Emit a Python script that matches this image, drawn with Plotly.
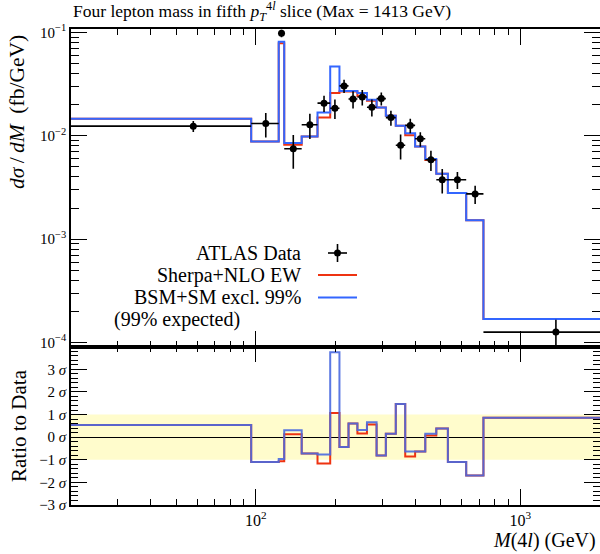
import plotly.graph_objects as go
import numpy as np

# ---------------- data ----------------
edges = [20, 96, 122, 128, 149, 171, 191, 207, 224, 242, 263, 286, 310, 338,
         367, 400, 437, 481, 532, 624, 725, 2000]

data_y = [0.0124, 0.01315, 0.098, 0.0075, 0.0128, 0.0207, 0.0185, 0.0304,
          0.0227, 0.0237, 0.0189, 0.0229, 0.0150, 0.0081, 0.0126, 0.00935,
          0.00586, 0.00376, 0.00376, 0.00274, 0.000126]
data_err = [0.0015, 0.0035, 0.008, 0.0027, 0.0035, 0.0037, 0.0040, 0.0045,
            0.0043, 0.0041, 0.0035, 0.0033, 0.0025, 0.0022, 0.0020, 0.0015,
            0.0013, 0.0010, 0.0007, 0.00055, 0.00004]

sherpa_y = [0.0146, 0.0088, 0.0787, 0.00818, 0.00986, 0.01503, 0.0259, 0.0268,
            0.0269, 0.0243, 0.0218, 0.0188, 0.0156, 0.0125, 0.0101, 0.00788,
            0.00582, 0.0043, 0.00279, 0.00152, 0.000169]
bsm_y = [0.0146, 0.0088, 0.0815, 0.0085, 0.00986, 0.0168, 0.0468, 0.0271,
         0.0271, 0.0259, 0.0223, 0.0188, 0.0156, 0.0125, 0.0106, 0.00788,
         0.00596, 0.0043, 0.00279, 0.00152, 0.000169]

sherpa_ratio = [0.54, -1.10, -1.07, 0.13, -0.72, -1.16, 1.07, -0.44, 0.60, 0.16,
                0.56, -0.81, 0.15, 1.47, -0.85, -0.63, 0.07, 0.38, -1.10, -1.69, 0.86]
bsm_ratio = [0.54, -1.10, -0.97, 0.31, -0.72, -0.77, 3.75, -0.44, 0.60, 0.32,
             0.66, -0.81, 0.15, 1.47, -0.63, -0.63, 0.15, 0.38, -1.10, -1.69, 0.86]

xticks_major = [100, 1000]
xticks_major_text = ["10<sup>2</sup>", "10<sup>3</sup>"]
yticks_major = [1e-4, 1e-3, 1e-2, 1e-1]
yticks_major_text = ["10<sup>−4</sup>", "10<sup>−3</sup>", "10<sup>−2</sup>", "10<sup>−1</sup>"]
rticks = [-3, -2, -1, 0, 1, 2, 3]
rticks_text = ["−3 <i>σ</i>", "−2 <i>σ</i>", "−1 <i>σ</i>", "0 <i>σ</i>", "1 <i>σ</i>", "2 <i>σ</i>", "3 <i>σ</i>"]

RED = "#EE3311"
BLUE = "#3366FF"
FONT = "Liberation Serif"

# ---------------- derived ----------------
e = np.array(edges, dtype=float)
centers = 0.5 * (e[:-1] + e[1:])
halfw = 0.5 * (e[1:] - e[:-1])

def step(vals):
    return list(vals) + [vals[-1]]

x_minor = [d * 10 ** p for p in (1, 2, 3) for d in range(2, 10) if 20 <= d * 10 ** p <= 2000]
y_minor = [d * 10 ** p for p in (-5, -4, -3, -2, -1) for d in range(2, 10)]
r_minor = [round(v, 1) for v in np.arange(-3, 4.01, 0.2) if abs(v - round(v)) > 1e-6]

fig = go.Figure()

# main panel
fig.add_trace(go.Scatter(x=edges, y=step(sherpa_y), mode="lines", line=dict(shape="hv", color=RED, width=2),
                         xaxis="x", yaxis="y", showlegend=False))
fig.add_trace(go.Scatter(x=edges, y=step(bsm_y), mode="lines", line=dict(shape="hv", color=BLUE, width=2),
                         xaxis="x", yaxis="y", showlegend=False))
fig.add_trace(go.Scatter(x=centers, y=data_y, mode="markers",
                         marker=dict(color="black", size=7),
                         error_x=dict(type="data", array=halfw, color="black", thickness=1.6, width=0),
                         error_y=dict(type="data", array=data_err, color="black", thickness=1.6, width=0),
                         xaxis="x", yaxis="y", showlegend=False))

# ratio panel
fig.add_trace(go.Scatter(x=edges, y=step(sherpa_ratio), mode="lines", line=dict(shape="hv", color=RED, width=2),
                         xaxis="x2", yaxis="y2", showlegend=False))
fig.add_trace(go.Scatter(x=edges, y=step(bsm_ratio), mode="lines", line=dict(shape="hv", color="#4a6ae0", width=2),
                         opacity=0.9, xaxis="x2", yaxis="y2", showlegend=False))

# geometry (pixels)
W, H = 600, 554
L, R, T, B = 71, 600, 29, 505
SPLIT = 346.7

def px(x):
    return (x - L) / (R - L)

def py(y):
    return (B - y) / (B - T)

axis_common = dict(showline=True, linecolor="black", linewidth=1.5, mirror="ticks",
                   ticks="inside", tickcolor="black", tickwidth=1.2, showgrid=False,
                   automargin=False)

ratio_split = py(SPLIT)

fig.update_layout(
    width=W, height=H,
    margin=dict(l=L, r=W - R, t=T, b=H - B, autoexpand=False),
    paper_bgcolor="white", plot_bgcolor="white",
    font=dict(family=FONT, size=15, color="black"),
    xaxis=dict(type="log", range=[np.log10(20), np.log10(2000)], domain=[0, 1], anchor="y",
               tickvals=xticks_major, ticklen=16, showticklabels=False, zeroline=False,
               minor=dict(tickvals=x_minor, ticklen=6, ticks="inside", tickcolor="black", tickwidth=1.2, showgrid=False),
               **axis_common),
    yaxis=dict(type="log", range=[np.log10(9.1e-5), np.log10(0.108)], domain=[ratio_split, 1], anchor="x",
               tickvals=yticks_major, ticktext=yticks_major_text, ticklen=16, zeroline=False,
               tickfont=dict(size=15),
               minor=dict(tickvals=y_minor, ticklen=8, ticks="inside", tickcolor="black", tickwidth=1.2, showgrid=False),
               **axis_common),
    xaxis2=dict(type="log", range=[np.log10(20), np.log10(2000)], domain=[0, 1], anchor="y2",
                tickvals=xticks_major, ticktext=xticks_major_text, ticklen=16, zeroline=False,
                tickfont=dict(size=16),
                minor=dict(tickvals=x_minor, ticklen=6, ticks="inside", tickcolor="black", tickwidth=1.2, showgrid=False),
                **axis_common),
    yaxis2=dict(range=[-3, 4], domain=[0, ratio_split], anchor="x2",
                tickvals=rticks, ticktext=rticks_text, ticklen=16, tickfont=dict(size=15),
                minor=dict(tickvals=r_minor, ticklen=7, ticks="inside", tickcolor="black", tickwidth=1.2, showgrid=False),
                zeroline=True, zerolinecolor="black", zerolinewidth=1,
                **axis_common),
)

shapes = []
# yellow 1-sigma band
shapes.append(dict(type="rect", xref="x2 domain", yref="y2", x0=0, x1=1, y0=-1, y1=1,
                   fillcolor="#FFFCCC", line=dict(width=0), layer="below"))
# legend symbols
shapes.append(dict(type="line", xref="paper", yref="paper", x0=px(328), x1=px(347), y0=py(253), y1=py(253),
                   line=dict(color="black", width=1.6)))
shapes.append(dict(type="line", xref="paper", yref="paper", x0=px(337.5), x1=px(337.5), y0=py(244), y1=py(262),
                   line=dict(color="black", width=1.6)))
shapes.append(dict(type="circle", xref="paper", yref="paper", x0=px(334), x1=px(341), y0=py(249.5), y1=py(256.5),
                   fillcolor="black", line=dict(color="black", width=0)))
shapes.append(dict(type="line", xref="paper", yref="paper", x0=px(318), x1=px(357), y0=py(275), y1=py(275),
                   line=dict(color=RED, width=2)))
shapes.append(dict(type="line", xref="paper", yref="paper", x0=px(318), x1=px(357), y0=py(297.5), y1=py(297.5),
                   line=dict(color=BLUE, width=2)))
fig.update_layout(shapes=shapes)

ann = []
def text(x, y, s, size=17, xanchor="left", yanchor="middle", angle=0):
    ann.append(dict(xref="paper", yref="paper", x=px(x), y=py(y), text=s, showarrow=False,
                    xanchor=xanchor, yanchor=yanchor, textangle=angle,
                    font=dict(family=FONT, size=size, color="black")))

text(71, 12, "Four lepton mass in fifth <i>p</i><sub><i>T</i></sub><sup>4<i>l</i></sup> slice (Max = 1413 GeV)", size=17.5)
text(303, 253, "ATLAS Data", size=20, xanchor="right")
text(303, 275, "Sherpa+NLO EW", size=20, xanchor="right")
text(303, 297, "BSM+SM excl. 99%", size=20, xanchor="right")
text(242, 319, "(99% expected)", size=20, xanchor="right")
text(17, 112, "<i>dσ</i>\u2009/\u2009<i>dM</i>\u2002(fb/GeV)", size=21.5, xanchor="center", angle=-90)
text(19, 426, "Ratio to Data", size=21, xanchor="center", angle=-90)
text(598, 540, "<i>M</i>(4<i>l</i>) (GeV)", size=20, xanchor="right")
fig.update_layout(annotations=ann)

fig.write_html("out.html", config={"displayModeBar": False},
               post_script="document.body.style.margin='0px';document.body.style.overflow='hidden';")
